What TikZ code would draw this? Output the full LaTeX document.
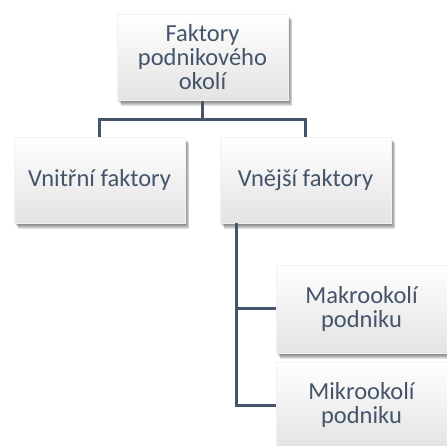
\documentclass[tikz,border=0pt]{standalone}
\usepackage{fontspec}
\setmainfont{Carlito}
\usepackage{tikz}
\definecolor{slate}{HTML}{44546A}
\tikzset{
  shadowstep/.style 2 args={preaction={fill=black, opacity=0.11,
    transform canvas={xshift=#1, yshift=#2}}},
  orgbox/.style={rectangle, minimum width=171pt, minimum height=86pt, inner sep=0pt, align=center,
    draw=black!5, line width=0.5pt, top color=white, bottom color=black!11, text=slate,
    font=\fontsize{24.5}{24}\selectfont,
    shadowstep={0.5pt}{-1pt}, shadowstep={1.2pt}{-2pt}, shadowstep={2pt}{-3pt},
    shadowstep={2.8pt}{-4pt}, shadowstep={3.6pt}{-5pt}, shadowstep={4.4pt}{-6pt}},
  conn/.style={draw=slate, line width=3pt}
}
\begin{document}
\begin{tikzpicture}[x=1pt,y=1pt]
  \useasboundingbox (0,0) rectangle (447,-446);
  \clip (0,0) rectangle (447,-446);
  % boxes
  \node[orgbox] (root) at (202.5,-57.5) {Faktory\\podnikového\\okolí};
  \node[orgbox] (inner) at (99.5,-180) {Vnitřní faktory};
  \node[orgbox] (outer) at (305.5,-180) {Vnější faktory};
  \node[orgbox, minimum height=88pt] (macro) at (361.5,-309) {Makrookolí\\podniku};
  \node[orgbox] (micro) at (361.5,-405) {Mikrookolí\\podniku};
  % connectors
  \coordinate (split) at (202.5,-120);
  \draw[conn] (root.south) -- (split);
  \draw[conn] (split) -| (inner.north);
  \draw[conn] (split) -| (outer.north);
  \draw[conn] ([xshift=17pt]outer.south west) |- (macro.west);
  \draw[conn] ([xshift=17pt]outer.south west) |- (micro.west);
\end{tikzpicture}
\end{document}
